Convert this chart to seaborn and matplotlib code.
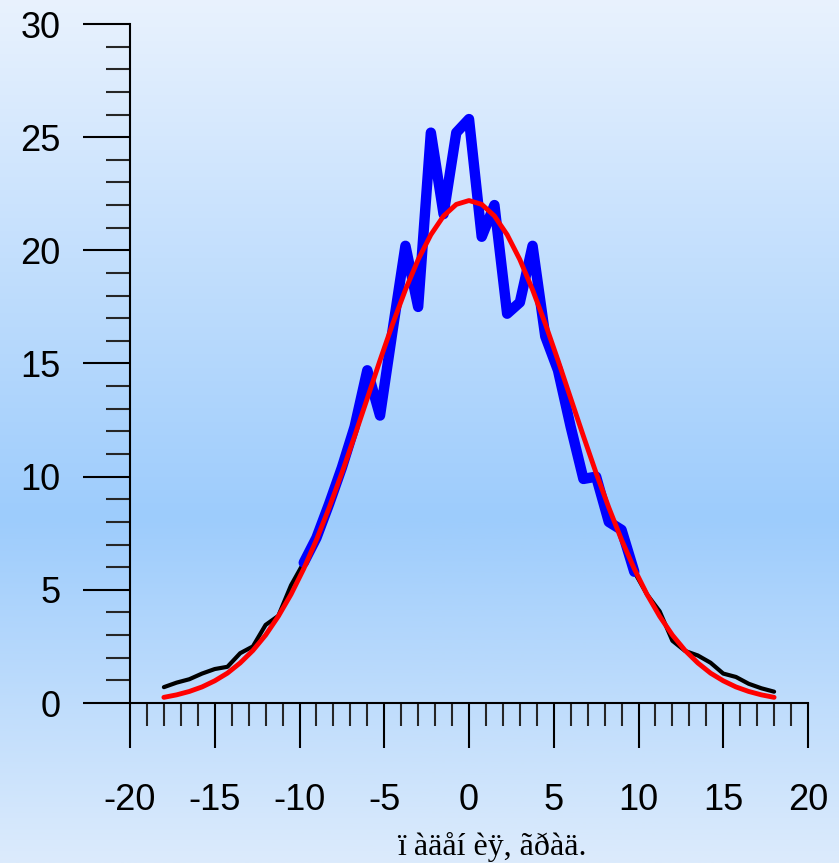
import numpy as np
import matplotlib
matplotlib.use("Agg")
import matplotlib.pyplot as plt
import seaborn as sns
from matplotlib.ticker import MultipleLocator

sns.set_style("ticks")
plt.rcParams["font.family"] = ["Liberation Sans", "DejaVu Sans"]
plt.rcParams["axes.unicode_minus"] = False

# angle grid, degrees
angle = [-18.0, -17.25, -16.5, -15.75, -15.0, -14.25, -13.5, -12.75, -12.0,
         -11.25, -10.5, -9.75, -9.0, -8.25, -7.5, -6.75, -6.0, -5.25, -4.5,
         -3.75, -3.0, -2.25, -1.5, -0.75, 0.0, 0.75, 1.5, 2.25, 3.0, 3.75,
         4.5, 5.25, 6.0, 6.75, 7.5, 8.25, 9.0, 9.75, 10.5, 11.25, 12.0,
         12.75, 13.5, 14.25, 15.0, 15.75, 16.5, 17.25, 18.0]

# measured distribution
measured = [0.7, 0.9, 1.05, 1.3, 1.5, 1.6, 2.2, 2.5, 3.45,
            3.85, 5.2, 6.2, 7.3, 8.8, 10.4, 12.2, 14.7, 12.7, 16.5,
            20.2, 17.5, 25.2, 21.6, 25.2, 25.8, 20.6, 22.0, 17.2, 17.7, 20.2,
            16.2, 14.7, 12.2, 9.9, 10.0, 8.0, 7.65, 5.8, 4.8, 4.05, 2.75,
            2.3, 2.1, 1.78, 1.3, 1.15, 0.85, 0.65, 0.5]

# fitted curve
fitted = [0.25, 0.36, 0.51, 0.71, 0.98, 1.32, 1.77, 2.32, 3.00,
          3.83, 4.80, 5.93, 7.21, 8.63, 10.16, 11.79, 13.46, 15.14, 16.76,
          18.26, 19.59, 20.69, 21.52, 22.03, 22.20, 22.03, 21.52, 20.69, 19.59, 18.26,
          16.76, 15.14, 13.46, 11.79, 10.16, 8.63, 7.21, 5.93, 4.80, 3.83, 3.00,
          2.32, 1.77, 1.32, 0.98, 0.71, 0.51, 0.36, 0.25]

# central window highlighted in blue
central_from, central_to = 11, 38

W, H = 839, 863
fig = plt.figure(figsize=(W / 100, H / 100), dpi=100)

# vertical gradient background
bg = fig.add_axes([0, 0, 1, 1], zorder=0)
pos = np.array([0.0, 0.6, 1.0])
cols = np.array([[233, 242, 254], [157, 204, 252], [220, 235, 252]]) / 255.0
t = np.linspace(0, 1, 600)
grad = np.stack([np.interp(t, pos, cols[:, c]) for c in range(3)], axis=1)
bg.imshow(grad[:, None, :], aspect="auto", extent=[0, 1, 0, 1])
bg.set_axis_off()

ax = fig.add_axes([130 / W, 160 / H, 678 / W, 679 / H], zorder=1)
ax.patch.set_alpha(0)

sns.lineplot(x=angle, y=measured, ax=ax, color="black", lw=3.0, sort=False,
             solid_capstyle="round", solid_joinstyle="round")
sns.lineplot(x=angle[central_from:central_to], y=measured[central_from:central_to],
             ax=ax, color="#0000ff", lw=7.5, sort=False,
             solid_capstyle="round", solid_joinstyle="round")
sns.lineplot(x=angle, y=fitted, ax=ax, color="#ff0000", lw=3.5, sort=False,
             solid_capstyle="round", solid_joinstyle="round")

ax.set_xlim(-20, 20)
ax.set_ylim(0, 30)
ax.xaxis.set_major_locator(MultipleLocator(5))
ax.xaxis.set_minor_locator(MultipleLocator(1))
ax.yaxis.set_major_locator(MultipleLocator(5))
ax.yaxis.set_minor_locator(MultipleLocator(1))

sns.despine(ax=ax)
for s in ("left", "bottom"):
    ax.spines[s].set_linewidth(1.5)
    ax.spines[s].set_color("black")

ax.tick_params(axis="x", which="major", direction="out", length=32.5, width=1.5,
               pad=25, labelsize=26, colors="black")
ax.tick_params(axis="x", which="minor", direction="out", length=16.5, width=1.5)
ax.tick_params(axis="y", which="major", direction="out", length=33.8, width=1.5,
               pad=16, labelsize=26, colors="black")
ax.tick_params(axis="y", which="minor", direction="out", length=17.3, width=1.5)
ax.set_xlabel("")
ax.set_ylabel("")

fig.text(492 / W, 1 - 855 / H, "ï àäåí èÿ, ãðàä.", family="Liberation Serif",
         fontsize=23, ha="center", va="baseline", color="black")

fig.savefig("out.png", dpi=100)
